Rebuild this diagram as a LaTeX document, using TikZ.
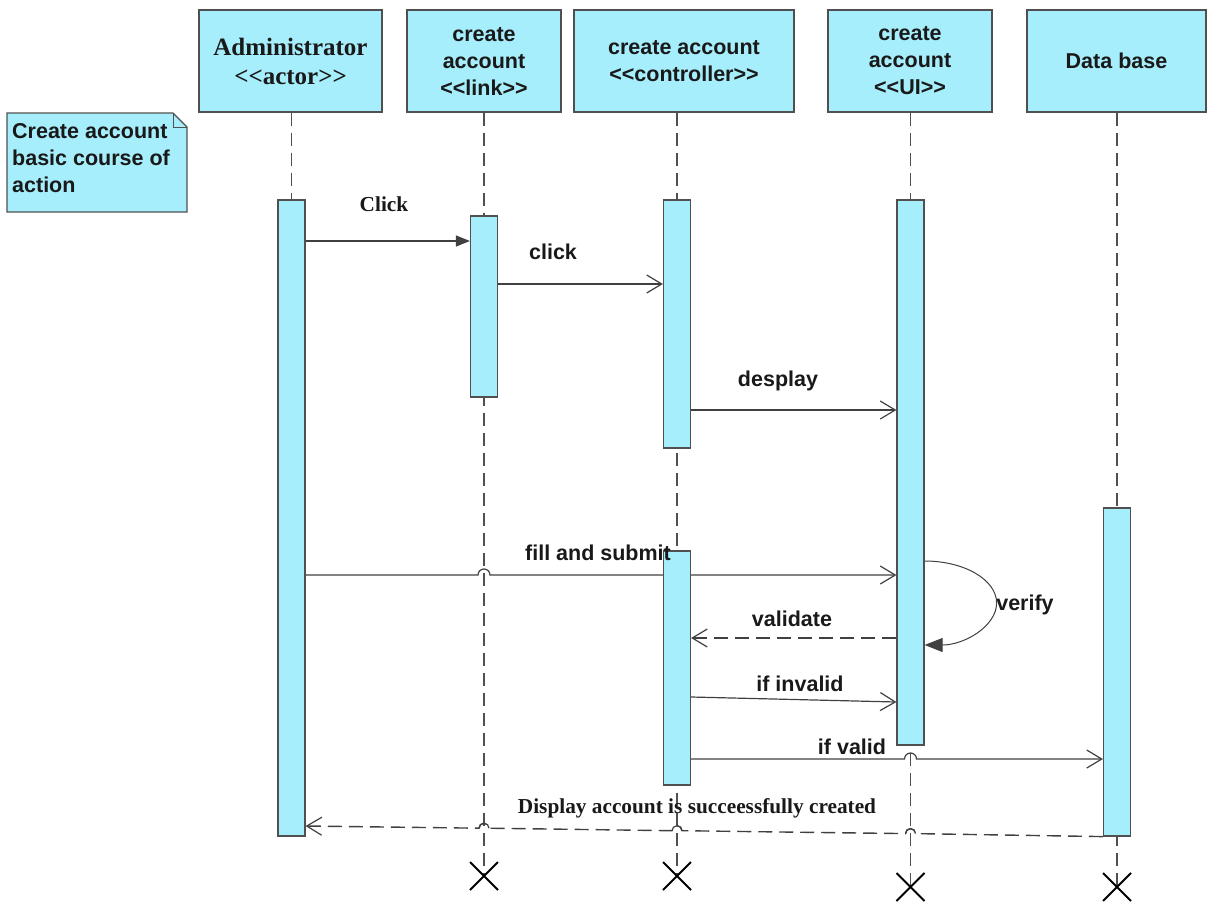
\documentclass[tikz,border=0pt]{standalone}
\usepackage{fontspec}
\setmainfont{Liberation Sans}
\newfontfamily\serifb{Liberation Serif}
\usetikzlibrary{arrows.meta,shapes.misc,calc,backgrounds}
\definecolor{boxfill}{RGB}{166,238,252}
\definecolor{edge}{RGB}{80,80,80}
\definecolor{ink}{RGB}{25,25,25}
\definecolor{linec}{RGB}{64,64,64}
\begin{document}
\begin{tikzpicture}[x=1pt,y=-1pt,
  head/.style={draw=edge, fill=boxfill, line width=1.2pt, inner sep=0pt, align=center,
    font=\fontsize{21.5}{27}\selectfont\bfseries, text=ink},
  bar/.style={draw=edge, fill=boxfill, line width=1.2pt, minimum width=27pt, inner sep=0pt},
  lifeline/.style={draw=edge, line width=1.3pt, dash pattern=on 13pt off 7pt},
  msg/.style={draw=linec, line width=1.2pt},
  openhead/.style={-{Straight Barb[length=15pt,width=18pt,line width=1.2pt]}},
  dashmsg/.style={line width=1.4pt, dash pattern=on 14pt off 7pt},
  lbl/.style={font=\fontsize{21.5}{27}\selectfont\bfseries, text=ink, inner sep=0pt},
  slbl/.style={font=\serifb\bfseries\fontsize{21.3}{25}\selectfont, text=ink, inner sep=0pt},
  xmark/.style={cross out, draw=black, line width=2pt, minimum size=26pt, inner sep=0pt},
]
\useasboundingbox (0,0) rectangle (1208,902);

% header boxes
\node[head, minimum width=183pt, minimum height=102pt,
  font=\serifb\bfseries\fontsize{25}{29}\selectfont] (admbox) at (290.5,61) {Administrator\\<{}<actor>{}>};
\node[head, minimum width=154pt, minimum height=102pt] (linkbox) at (484,61) {create\\account\\<{}<link>{}>};
\node[head, minimum width=220pt, minimum height=102pt] (ctrlbox) at (684,61) {create account\\<{}<controller>{}>};
\node[head, minimum width=164pt, minimum height=102pt] (uibox) at (910,61) {create\\account\\<{}<UI>{}>};
\node[head, minimum width=179pt, minimum height=102pt] (dbbox) at (1116.5,61) {Data base};

% note
\fill[boxfill] (7,113) -- (173,113) -- (187,127) -- (187,212) -- (7,212) -- cycle;
\draw[edge, line width=1.2pt] (7,113) -- (173,113) -- (187,127) -- (187,212) -- (7,212) -- cycle;
\draw[edge, line width=1pt] (173,113) -- (173,127) -- (187,127);
\node[lbl, align=left, anchor=north west] (note) at (12,123) {Create account\\basic course of\\action};

% activation bars
\node[bar, minimum height=636pt] (admbar) at (291.5,518) {};
\node[bar, minimum height=181pt] (linkbar) at (484,306.5) {};
\node[bar, minimum height=248pt] (ctrlbar1) at (677,324) {};
\node[bar, minimum height=234pt] (ctrlbar2) at (677,668) {};
\node[bar, minimum height=545pt] (uibar) at (910.5,472.5) {};
\node[bar, minimum height=328pt] (dbbar) at (1117,672) {};

% destruction marks
\node[xmark] (xlink) at (484,876) {};
\node[xmark] (xctrl) at (677,876) {};
\node[xmark] (xui) at (910.5,887) {};
\node[xmark] (xdb) at (1117,887) {};

% message levels
\coordinate (yClick) at (0,241);
\coordinate (yclick) at (0,284);
\coordinate (yDesp) at (0,410);
\coordinate (yFill) at (0,575);
\coordinate (yVer) at (0,561);
\coordinate (yVal) at (0,638);
\coordinate (yInvA) at (0,697);
\coordinate (yInvB) at (0,702);
\coordinate (yValid) at (0,759);
\coordinate (yDisp) at (0,826);

\begin{pgfonlayer}{background}
\draw[lifeline] (admbar.north |- admbox.south) -- (admbar.north);
\draw[lifeline] (linkbar.north |- linkbox.south) -- (xlink.center);
\draw[lifeline] (ctrlbar1.north |- ctrlbox.south) -- (xctrl.center);
\draw[lifeline] (uibar.north |- uibox.south) -- (xui.center);
\draw[lifeline] (dbbar.north |- dbbox.south) -- (xdb.center);

\draw[msg, -{Triangle[length=14pt,width=11pt]}] (admbar.east |- yClick) -- (linkbar.west |- yClick);
\draw[msg, openhead] (linkbar.east |- yclick) -- (ctrlbar1.west |- yclick);
\draw[msg, openhead] (ctrlbar1.east |- yDesp) -- (uibar.west |- yDesp);
\draw[msg, openhead] (admbar.east |- yFill) -- ($(linkbar.center |- yFill)+(-6,0)$)
  arc[start angle=180, end angle=360, radius=6] -- (uibar.west |- yFill);
\draw[msg, line width=1pt, -{Triangle[length=18pt,width=14pt]}] (uibar.east |- yVer)
  arc[start angle=270, end angle=450, x radius=72, y radius=42];
\draw[msg, dashmsg, openhead] (uibar.west |- yVal) -- (ctrlbar2.east |- yVal);
\draw[msg, openhead] (ctrlbar2.east |- yInvA) -- (uibar.west |- yInvB);
\draw[msg, openhead] (ctrlbar2.east |- yValid) -- ($(uibar.center |- yValid)+(-6,0)$)
  arc[start angle=180, end angle=360, radius=6] -- (dbbar.west |- yValid);
\draw[msg, dashmsg, openhead] (dbbar.south west) -- (915.5,833.6)
  arc[start angle=0, end angle=-180, radius=5] -- (682,830.7)
  arc[start angle=0, end angle=-180, radius=5] -- (489,828.2)
  arc[start angle=0, end angle=-180, radius=5] -- (admbar.east |- yDisp);
% jump humps of the return message (kept visible through the dash gaps)
\draw[msg] (915.5,833.6) arc[start angle=0, end angle=-180, radius=5];
\draw[msg] (682,830.7) arc[start angle=0, end angle=-180, radius=5];
\draw[msg] (489,828.2) arc[start angle=0, end angle=-180, radius=5];
\end{pgfonlayer}

% labels
\node[slbl] (lClick) at (384,204) {Click};
\node[lbl] (lclick) at (553,252) {click};
\node[lbl] (ldesp) at (778,381) {desplay};
\node[lbl] (lfill) at (598,553) {fill and submit};
\node[lbl] (lver) at (1025,605) {verify};
\node[lbl] (lval) at (792,619) {validate};
\node[lbl] (linv) at (800,684) {if invalid};
\node[lbl] (lvalid) at (852,747) {if valid};
\node[slbl] (ldisp) at (697,808) {Display account is succeessfully created};
\end{tikzpicture}
\end{document}
